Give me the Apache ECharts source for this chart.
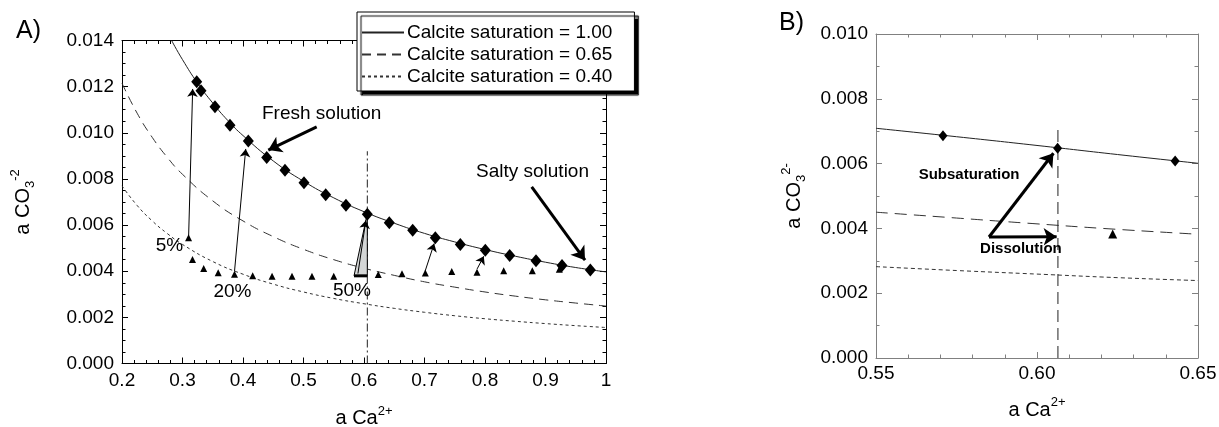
<!DOCTYPE html>
<html>
<head>
<meta charset="utf-8">
<title>Calcite saturation</title>
<script src="https://cdn.jsdelivr.net/npm/echarts@6/dist/echarts.min.js"></script>
<style>
  html, body { margin: 0; padding: 0; background: #fff; }
  #main { width: 1219px; height: 427px; }
</style>
</head>
<body>
<div id="main"></div>
<script type="text/javascript">
// ---- panel A data: [a Ca2+, a CO3 2-] ----
var sat100A = [[0.282, 0.01400], [0.30, 0.01317], [0.325, 0.01215], [0.35, 0.01129], [0.375, 0.01053],
  [0.40, 0.00988], [0.45, 0.00878], [0.50, 0.00790], [0.55, 0.00718], [0.60, 0.00658], [0.65, 0.00608],
  [0.70, 0.00564], [0.75, 0.00527], [0.80, 0.00494], [0.85, 0.00465], [0.90, 0.00439], [0.95, 0.00416],
  [1.00, 0.00397]];
var sat065A = [[0.20, 0.01215], [0.225, 0.01085], [0.25, 0.00980], [0.275, 0.00893], [0.30, 0.00820],
  [0.35, 0.00705], [0.40, 0.00618], [0.45, 0.00550], [0.50, 0.00495], [0.55, 0.00450], [0.60, 0.00413],
  [0.65, 0.00382], [0.70, 0.00354], [0.75, 0.00331], [0.80, 0.00310], [0.85, 0.00292], [0.90, 0.00276],
  [0.95, 0.00262], [1.00, 0.00249]];
var sat040A = [[0.20, 0.00770], [0.225, 0.00685], [0.25, 0.00618], [0.275, 0.00563], [0.30, 0.00516],
  [0.35, 0.00442], [0.40, 0.00387], [0.45, 0.00344], [0.50, 0.00310], [0.55, 0.00282], [0.60, 0.00259],
  [0.65, 0.00239], [0.70, 0.00222], [0.75, 0.00207], [0.80, 0.00194], [0.85, 0.00183], [0.90, 0.00173],
  [0.95, 0.00164], [1.00, 0.00156]];
var freshPts = [[0.3235, 0.01221], [0.3306, 0.01182], [0.3537, 0.01113], [0.3785, 0.01033],
  [0.4088, 0.00964], [0.4392, 0.00893], [0.4694, 0.00838], [0.5008, 0.00783], [0.5367, 0.00731],
  [0.5702, 0.00686], [0.6055, 0.00647], [0.6418, 0.00610], [0.6805, 0.00578], [0.7179, 0.00545],
  [0.7592, 0.00516], [0.8005, 0.00491], [0.8408, 0.00468], [0.8843, 0.00445], [0.9273, 0.00425],
  [0.9741, 0.00405]];
var mixPts = [[0.310, 0.00545], [0.3165, 0.00451], [0.335, 0.00412], [0.359, 0.00393], [0.386, 0.00387],
  [0.416, 0.00380], [0.448, 0.00378], [0.481, 0.00378], [0.514, 0.00378], [0.550, 0.00378],
  [0.6236, 0.00386], [0.6628, 0.00389], [0.7013, 0.00392], [0.745, 0.00399], [0.7868, 0.00396],
  [0.8309, 0.00402], [0.8782, 0.00402], [0.9228, 0.00408]];
var refLineA = [[0.6055, 0.0], [0.6055, 0.0092]];
var shadeA = [[0.5835, 0.0038], [0.6055, 0.0038], [0.6055, 0.0065]];
var thinArrowsA = [
  [[0.310, 0.0054], [0.3168, 0.0119]],
  [[0.386, 0.0040], [0.4045, 0.0093]],
  [[0.590, 0.0039], [0.603, 0.0062]],
  [[0.701, 0.0040], [0.716, 0.0052]],
  [[0.787, 0.0041], [0.798, 0.00465]]
];
var thickArrowsA = [
  [[0.5218, 0.01026], [0.4418, 0.00925]],
  [[0.8772, 0.00766], [0.9653, 0.00448]]
];
var labelsA = [[0.530, 0.01084, 'Fresh solution'], [0.8785, 0.00831, 'Salty solution'],
  [0.2785, 0.00510, '5%'], [0.3825, 0.00312, '20%'], [0.580, 0.00314, '50%']];

// ---- panel B data (zoom around a Ca2+ = 0.6) ----
var sat100B = [[0.55, 0.00709], [0.575, 0.00683], [0.60, 0.00656], [0.625, 0.00628], [0.65, 0.00601]];
var sat065B = [[0.55, 0.00450], [0.575, 0.00432], [0.60, 0.00414], [0.625, 0.00397], [0.65, 0.00382]];
var sat040B = [[0.55, 0.00282], [0.575, 0.00270], [0.60, 0.00259], [0.625, 0.00248], [0.65, 0.00239]];
var freshB = [[0.5708, 0.00686], [0.6064, 0.00647], [0.6429, 0.00608]];
var mixB = [[0.6235, 0.00383]];
var refLineB = [[0.6065, 0.0], [0.6065, 0.00722]];
var arrowsB = [
  [[0.5851, 0.003735], [0.6051, 0.00632]],
  [[0.5851, 0.003735], [0.6061, 0.003745]]
];
var labelsB = [[0.5789, 0.00565, 'Subsaturation'], [0.595, 0.00336, 'Dissolution']];

var legendNames = ['Calcite saturation = 1.00', 'Calcite saturation = 0.65', 'Calcite saturation = 0.40'];

var FONT = 'Liberation Sans';
var chart = echarts.init(document.getElementById('main'), null, { renderer: 'canvas' });

function axis(o) {
  var col = o.color || '#000';
  return {
    type: 'value', gridIndex: o.grid, position: o.pos, min: o.min, max: o.max, interval: o.interval,
    splitLine: { show: false },
    axisLine: { onZero: false, lineStyle: { color: col, width: 1 } },
    axisTick: { inside: true, length: 6, lineStyle: { color: col } },
    minorTick: { show: true, splitNumber: o.minor, length: 3.5, lineStyle: { color: col } },
    axisLabel: o.fmt ? { show: true, color: '#000', fontSize: 19, fontFamily: FONT, margin: o.margin || 8, formatter: o.fmt } : { show: false },
    name: o.name || '', nameLocation: 'middle', nameGap: o.nameGap || 0,
    nameTextStyle: { color: '#000', fontFamily: FONT, fontSize: 20,
      rich: {
        b: { fontSize: 20, lineHeight: 28, fontFamily: FONT, color: '#000' },
        sup: { fontSize: 13, lineHeight: 14, verticalAlign: 'top', fontFamily: FONT, color: '#000' },
        sub: { fontSize: 13, lineHeight: 14, verticalAlign: 'bottom', fontFamily: FONT, color: '#000' }
      }
    }
  };
}
function fmtA(v) { return v === 1 ? '1' : v.toFixed(1); }
function fmtB(v) { return v.toFixed(2); }
function fmtY(v) { return v.toFixed(3); }

var xAxes = [
  axis({ grid: 0, pos: 'bottom', min: 0.2, max: 1.0, interval: 0.1, minor: 5, fmt: fmtA, name: '{b|a Ca}{sup|2+}', nameGap: 41 }),
  axis({ grid: 0, pos: 'top', min: 0.2, max: 1.0, interval: 0.1, minor: 5 }),
  axis({ grid: 1, pos: 'bottom', min: 0.55, max: 0.65, interval: 0.05, minor: 5, fmt: fmtB, margin: 6, color: '#808080', name: '{b|a Ca}{sup|2+}', nameGap: 38 }),
  axis({ grid: 1, pos: 'top', min: 0.55, max: 0.65, interval: 0.05, minor: 5, color: '#808080' })
];
var yAxes = [
  axis({ grid: 0, pos: 'left', min: 0, max: 0.014, interval: 0.002, minor: 4, fmt: fmtY, name: '{b|a CO}{sub|3}{sup|-2}', nameGap: 85 }),
  axis({ grid: 0, pos: 'right', min: 0, max: 0.014, interval: 0.002, minor: 4 }),
  axis({ grid: 1, pos: 'left', min: 0, max: 0.010, interval: 0.002, minor: 2, fmt: fmtY, color: '#808080', name: '{b|a CO}{sub|3}{sup|2-}', nameGap: 68 }),
  axis({ grid: 1, pos: 'right', min: 0, max: 0.010, interval: 0.002, minor: 2, color: '#808080' })
];

function curve(name, data, type, xi, yi, col) {
  return { name: name, type: 'line', xAxisIndex: xi, yAxisIndex: yi, data: data, showSymbol: false, symbol: 'none',
    smooth: true, silent: true, color: col || '#222',
    itemStyle: { color: col || '#222' },
    lineStyle: { color: col || '#222', width: 1, type: type } };
}
function marks(data, symbol, size, xi, yi) {
  return { type: 'scatter', xAxisIndex: xi, yAxisIndex: yi, data: data, symbol: symbol, symbolSize: size,
    itemStyle: { color: '#000', opacity: 1 }, silent: true, z: 5 };
}
function arrows(data, width, size, xi, yi) {
  return { type: 'lines', coordinateSystem: 'cartesian2d', xAxisIndex: xi, yAxisIndex: yi,
    symbol: ['none', 'arrow'], symbolSize: size, silent: true, z: 6,
    lineStyle: { color: '#000', width: width, opacity: 1, curveness: 0 },
    data: data.map(function (a) { return { coords: a }; }) };
}
function texts(data, size, weight, xi, yi) {
  return { type: 'scatter', xAxisIndex: xi, yAxisIndex: yi, symbolSize: 0, silent: true, z: 7,
    data: data, itemStyle: { opacity: 1, color: '#000' },
    label: { show: true, position: 'inside', formatter: function (p) { return p.value[2]; },
      color: '#000', opacity: 1, fontSize: size, fontWeight: weight, fontFamily: FONT } };
}

chart.setOption({
  animation: false,
  backgroundColor: '#fff',
  title: [
    { text: 'A)', left: 11, top: 14, textStyle: { fontSize: 25, fontWeight: 'normal', fontFamily: FONT, color: '#000' } },
    { text: 'B)', left: 774, top: 6, textStyle: { fontSize: 25, fontWeight: 'normal', fontFamily: FONT, color: '#000' } }
  ],
  legend: {
    data: legendNames, orient: 'vertical', left: 357, top: 12,
    itemWidth: 42, itemHeight: 14, itemGap: 3, padding: [11, 22, 5, 4],
    backgroundColor: '#fff', borderColor: '#000', borderWidth: 1,
    shadowColor: '#000', shadowBlur: 1, shadowOffsetX: 4, shadowOffsetY: 4,
    selectedMode: false,
    itemStyle: { opacity: 0 },
    textStyle: { fontSize: 19, fontFamily: FONT, color: '#000', padding: [0, 0, 0, -2] }
  },
  grid: [
    { left: 122, top: 40.5, width: 484, height: 323, outerBoundsMode: 'none', containLabel: false },
    { left: 876, top: 34, width: 322, height: 324, outerBoundsMode: 'none', containLabel: false }
  ],
  xAxis: xAxes,
  yAxis: yAxes,
  series: [
    curve(legendNames[0], sat100A, 'solid', 0, 0),
    curve(legendNames[1], sat065A, [9, 6], 0, 0, '#333'),
    curve(legendNames[2], sat040A, [3, 3], 0, 0, '#333'),
    { type: 'line', xAxisIndex: 0, yAxisIndex: 0, data: refLineA, showSymbol: false, symbol: 'none', silent: true,
      lineStyle: { color: '#222', width: 1, type: [8, 3, 2, 3] } },
    { type: 'custom', xAxisIndex: 0, yAxisIndex: 0, data: [shadeA[0]], silent: true, z: 4,
      renderItem: function (params, api) {
        var pts = shadeA.map(function (p) { return api.coord(p); });
        return { type: 'group', children: [
          { type: 'polygon', shape: { points: pts }, style: { fill: '#d4d6d6', stroke: '#000', lineWidth: 1 } },
          { type: 'line', shape: { x1: pts[0][0], y1: pts[0][1], x2: pts[1][0], y2: pts[1][1] }, style: { stroke: '#000', lineWidth: 3 } }
        ] };
      } },
    marks(freshPts, 'diamond', [11, 13], 0, 0),
    marks(mixPts, 'triangle', 7, 0, 0),
    arrows(thinArrowsA, 1, 8, 0, 0),
    arrows(thickArrowsA, 3, 13, 0, 0),
    texts(labelsA, 19, 'normal', 0, 0),

    curve('B 1.00', sat100B, 'solid', 2, 2),
    curve('B 0.65', sat065B, [12, 7], 2, 2, '#333'),
    curve('B 0.40', sat040B, [4, 3], 2, 2, '#333'),
    { type: 'line', xAxisIndex: 2, yAxisIndex: 2, data: refLineB, showSymbol: false, symbol: 'none', silent: true,
      lineStyle: { color: '#222', width: 1, type: [12, 6] } },
    marks(freshB, 'diamond', [9, 11], 2, 2),
    marks(mixB, 'triangle', 9, 2, 2),
    arrows(arrowsB, 3, 13, 2, 2),
    texts(labelsB, 15, 'bold', 2, 2)
  ]
});
</script>
</body>
</html>
